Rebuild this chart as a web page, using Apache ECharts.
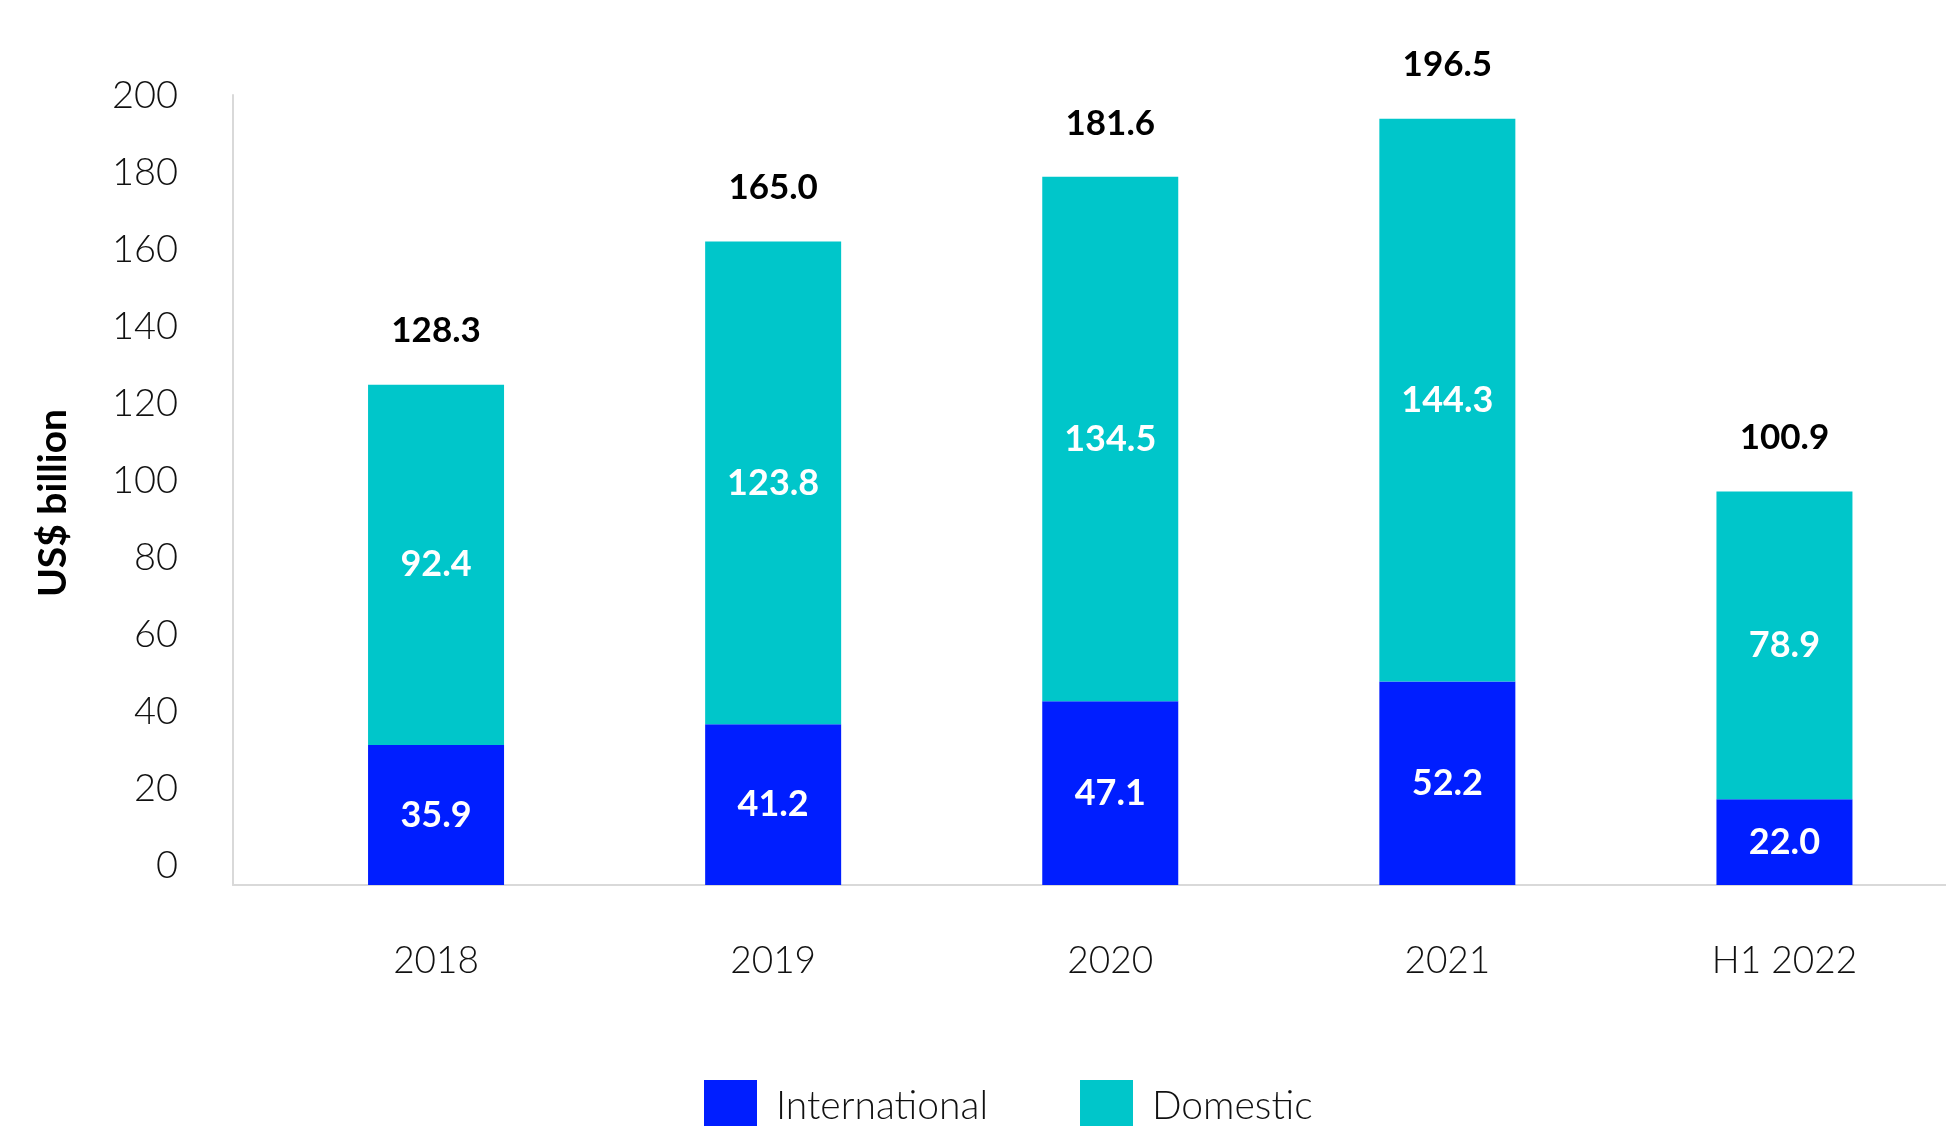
<!DOCTYPE html>
<html>
<head>
<meta charset="utf-8">
<style>
  html, body { margin: 0; padding: 0; background: #ffffff; overflow: hidden; }
  #chart { width: 1953px; height: 1126px; }
</style>
<script src="https://cdn.jsdelivr.net/npm/echarts@6/dist/echarts.min.js"></script>
</head>
<body>
<div id="chart"></div>
<script>
// Values in US$ billion
const categories = ['2018', '2019', '2020', '2021', 'H1 2022'];
const international = [35.9, 41.2, 47.1, 52.2, 22.0];
const domestic = [92.4, 123.8, 134.5, 144.3, 78.9];
const totals = [128.3, 165.0, 181.6, 196.5, 100.9];
const yTicks = { min: 0, max: 200, step: 20 };

const FONT = 'Lato, "Open Sans", sans-serif';
const BLUE = '#001EFF';
const CYAN = '#00C6CA';
const AXIS_GREY = '#D9D9D9';

const chart = echarts.init(document.getElementById('chart'), null, { renderer: 'canvas' });

const innerLabel = {
  show: true,
  position: 'inside',
  color: '#ffffff',
  fontFamily: FONT,
  fontWeight: 'bold',
  fontSize: 36,
  formatter: p => p.value.toFixed(1)
};

const hiddenCategory = (gridIndex) => ({
  gridIndex,
  type: 'category',
  data: [''],
  axisLine: { show: false },
  axisTick: { show: false },
  axisLabel: { show: false },
  splitLine: { show: false }
});

chart.setOption({
  backgroundColor: '#ffffff',
  animation: false,
  grid: [
    // frame: axis lines
    { left: 233, right: 7, top: 95, height: 790 },
    // bars
    { left: 267.5, right: 0, top: 105, height: 780 },
    // y tick labels
    { left: 233, right: 7, top: 95.5, height: 770 }
  ],
  legend: {
    data: ['International', 'Domestic'],
    left: 704,
    top: 1080,
    padding: 0,
    icon: 'rect',
    itemWidth: 53,
    itemHeight: 53,
    itemGap: 92,
    textStyle: {
      fontFamily: FONT,
      fontWeight: 300,
      fontSize: 39,
      color: '#111111',
      padding: [0, 0, 7, 14]
    }
  },
  xAxis: [
    Object.assign(hiddenCategory(0), {
      axisLine: { show: true, lineStyle: { color: AXIS_GREY, width: 2 } }
    }),
    {
      gridIndex: 1,
      type: 'category',
      data: categories,
      axisLine: { show: false },
      axisTick: { show: false },
      splitLine: { show: false },
      axisLabel: {
        margin: 58,
        fontFamily: FONT,
        fontWeight: 300,
        fontSize: 37,
        color: '#111111'
      }
    },
    hiddenCategory(2)
  ],
  yAxis: [
    {
      gridIndex: 0,
      type: 'value',
      min: yTicks.min,
      max: yTicks.max,
      interval: yTicks.step,
      axisLine: { show: true, lineStyle: { color: AXIS_GREY, width: 2 } },
      axisTick: { show: false },
      axisLabel: { show: false },
      splitLine: { show: false }
    },
    {
      gridIndex: 1,
      type: 'value',
      min: yTicks.min,
      max: yTicks.max,
      interval: yTicks.step,
      show: false,
      splitLine: { show: false }
    },
    {
      gridIndex: 2,
      type: 'value',
      min: yTicks.min,
      max: yTicks.max,
      interval: yTicks.step,
      axisLine: { show: false },
      axisTick: { show: false },
      splitLine: { show: false },
      axisLabel: {
        margin: 55,
        fontFamily: FONT,
        fontWeight: 300,
        fontSize: 38,
        color: '#111111'
      },
      name: 'US$ billion',
      nameLocation: 'middle',
      nameGap: 160,
      nameRotate: 90,
      nameTextStyle: {
        fontFamily: FONT,
        fontWeight: 'bold',
        fontSize: 39,
        color: '#000000',
        padding: [0, 45, 0, 0]
      }
    }
  ],
  series: [
    {
      name: 'International',
      type: 'bar',
      xAxisIndex: 1,
      yAxisIndex: 1,
      stack: 'total',
      barWidth: 136,
      data: international,
      itemStyle: { color: BLUE },
      label: innerLabel
    },
    {
      name: 'Domestic',
      type: 'bar',
      xAxisIndex: 1,
      yAxisIndex: 1,
      stack: 'total',
      barWidth: 136,
      data: domestic,
      itemStyle: { color: CYAN },
      label: innerLabel
    },
    {
      // invisible column carrying the total above each stack
      name: 'Total',
      type: 'bar',
      xAxisIndex: 1,
      yAxisIndex: 1,
      barWidth: 136,
      barGap: '-100%',
      silent: true,
      data: totals,
      itemStyle: { color: 'rgba(0,0,0,0)' },
      label: {
        show: true,
        position: 'top',
        distance: 36,
        color: '#000000',
        fontFamily: FONT,
        fontWeight: 'bold',
        fontSize: 35,
        formatter: p => p.value.toFixed(1)
      }
    }
  ]
});
</script>
</body>
</html>
